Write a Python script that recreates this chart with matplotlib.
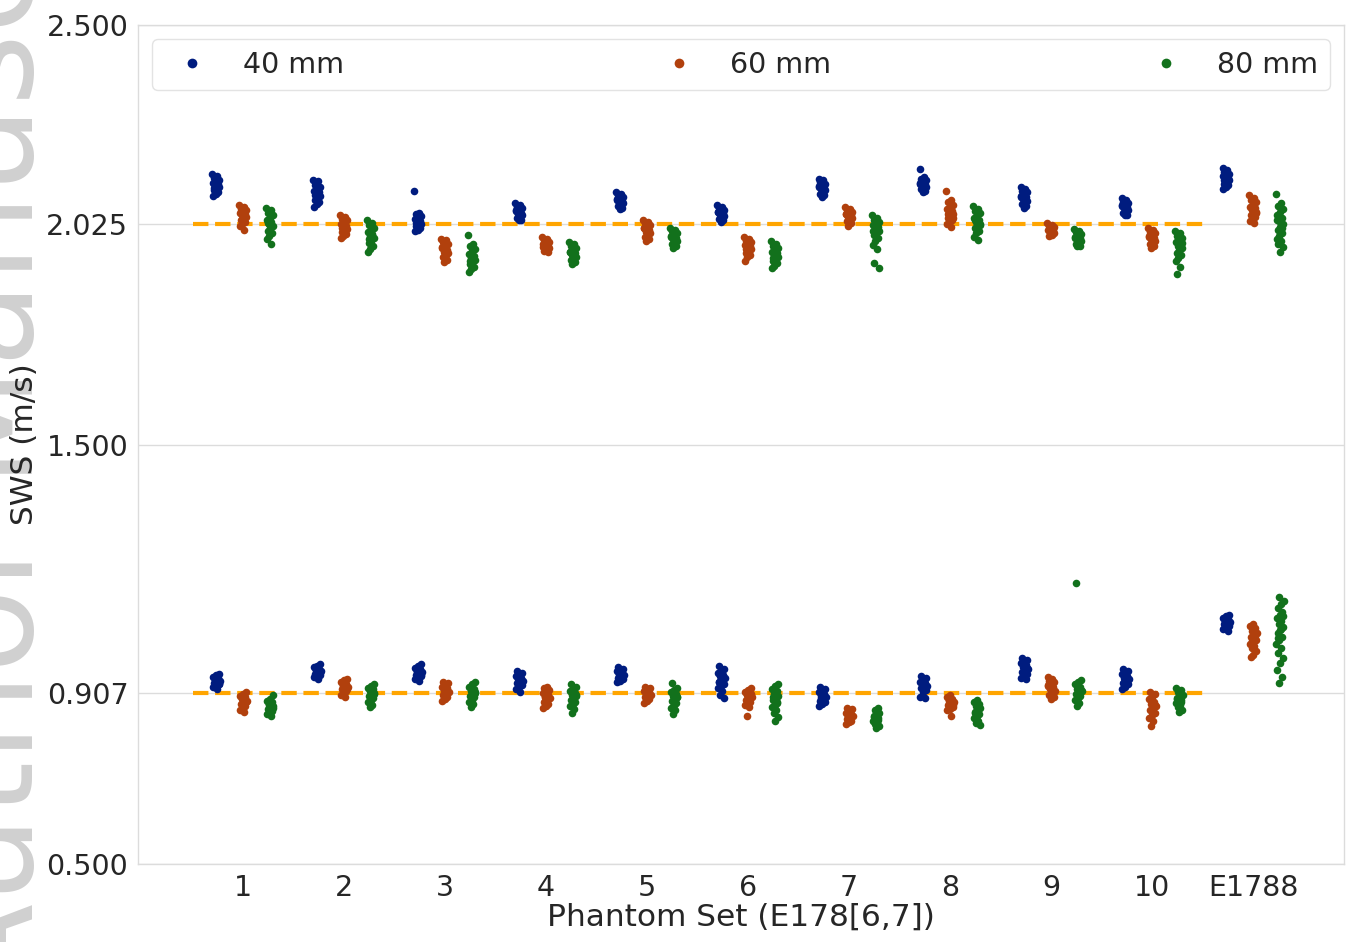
import matplotlib
matplotlib.use("Agg")
import matplotlib.pyplot as plt
from matplotlib.lines import Line2D
import numpy as np

phantom_sets = ["1", "2", "3", "4", "5", "6", "7", "8", "9", "10", "E1788"]
sizes = ["40 mm", "60 mm", "80 mm"]
nominal_sws = [0.907, 2.025]
yticks = [0.500, 0.907, 1.500, 2.025, 2.500]

# stiff inclusions (upper band), one list per phantom set
sws_40mm_hi = [
    [2.146, 2.140, 2.135, 2.131, 2.127, 2.123, 2.120, 2.117, 2.114, 2.110, 2.106, 2.102, 2.098, 2.093, 2.125, 2.112],
    [2.131, 2.127, 2.118, 2.114, 2.109, 2.105, 2.101, 2.097, 2.093, 2.089, 2.084, 2.079, 2.074, 2.067, 2.103, 2.095],
    [2.104, 2.053, 2.049, 2.045, 2.041, 2.037, 2.033, 2.029, 2.026, 2.023, 2.020, 2.016, 2.012, 2.009, 2.035, 2.027],
    [2.075, 2.071, 2.067, 2.063, 2.059, 2.056, 2.053, 2.050, 2.047, 2.044, 2.040, 2.036, 2.034, 2.058, 2.049],
    [2.101, 2.097, 2.094, 2.090, 2.087, 2.084, 2.081, 2.078, 2.075, 2.072, 2.068, 2.064, 2.062, 2.085, 2.079],
    [2.070, 2.067, 2.063, 2.060, 2.057, 2.054, 2.051, 2.048, 2.045, 2.042, 2.038, 2.034, 2.031, 2.055, 2.047],
    [2.134, 2.130, 2.126, 2.122, 2.118, 2.115, 2.112, 2.109, 2.106, 2.102, 2.098, 2.094, 2.089, 2.116, 2.104],
    [2.157, 2.137, 2.134, 2.130, 2.127, 2.124, 2.121, 2.118, 2.115, 2.112, 2.108, 2.104, 2.101, 2.122, 2.113],
    [2.113, 2.109, 2.105, 2.101, 2.097, 2.093, 2.089, 2.085, 2.081, 2.077, 2.073, 2.068, 2.063, 2.091, 2.083],
    [2.087, 2.083, 2.079, 2.075, 2.072, 2.069, 2.066, 2.063, 2.060, 2.056, 2.052, 2.048, 2.046, 2.070, 2.061],
    [2.158, 2.154, 2.150, 2.146, 2.142, 2.139, 2.136, 2.133, 2.130, 2.126, 2.122, 2.118, 2.113, 2.108, 2.140, 2.131],
]
sws_60mm_hi = [
    [2.070, 2.066, 2.062, 2.058, 2.055, 2.052, 2.049, 2.046, 2.043, 2.040, 2.036, 2.031, 2.026, 2.020, 2.011, 2.054],
    [2.046, 2.043, 2.038, 2.034, 2.030, 2.026, 2.022, 2.018, 2.014, 2.010, 2.006, 2.001, 1.996, 1.992, 2.024, 2.016],
    [1.991, 1.987, 1.982, 1.977, 1.972, 1.968, 1.964, 1.960, 1.956, 1.951, 1.946, 1.941, 1.936, 1.970, 1.958],
    [1.994, 1.991, 1.987, 1.983, 1.980, 1.977, 1.974, 1.971, 1.968, 1.965, 1.962, 1.958, 1.979, 1.970],
    [2.034, 2.031, 2.027, 2.023, 2.019, 2.015, 2.011, 2.007, 2.003, 1.999, 1.995, 1.990, 1.985, 2.017, 2.009],
    [1.994, 1.990, 1.986, 1.982, 1.978, 1.975, 1.972, 1.968, 1.965, 1.961, 1.957, 1.952, 1.947, 1.937, 1.976, 1.967],
    [2.065, 2.062, 2.058, 2.055, 2.052, 2.049, 2.046, 2.043, 2.040, 2.037, 2.033, 2.029, 2.021, 2.050, 2.044],
    [2.104, 2.082, 2.077, 2.072, 2.067, 2.062, 2.057, 2.053, 2.049, 2.045, 2.041, 2.036, 2.031, 2.025, 2.018, 2.050, 2.039],
    [2.027, 2.024, 2.021, 2.018, 2.015, 2.012, 2.009, 2.006, 2.003, 2.000, 1.997, 2.013, 2.007],
    [2.015, 2.011, 2.007, 2.003, 1.999, 1.996, 1.993, 1.990, 1.986, 1.982, 1.978, 1.973, 1.969, 1.995, 1.988],
    [2.094, 2.088, 2.082, 2.077, 2.072, 2.067, 2.063, 2.059, 2.055, 2.051, 2.047, 2.042, 2.037, 2.032, 2.028, 2.065, 2.053],
]
sws_80mm_hi = [
    [2.063, 2.058, 2.052, 2.046, 2.041, 2.036, 2.031, 2.026, 2.021, 2.016, 2.010, 2.004, 1.997, 1.989, 1.979, 2.028],
    [2.034, 2.029, 2.023, 2.017, 2.012, 2.007, 2.002, 1.997, 1.992, 1.986, 1.980, 1.974, 1.967, 1.960, 2.000, 1.990],
    [1.999, 1.979, 1.973, 1.967, 1.961, 1.955, 1.950, 1.945, 1.940, 1.935, 1.930, 1.924, 1.918, 1.912, 1.948, 1.938],
    [1.982, 1.977, 1.973, 1.968, 1.964, 1.960, 1.956, 1.952, 1.948, 1.944, 1.940, 1.935, 1.930, 1.958, 1.950],
    [2.015, 2.012, 2.008, 2.004, 2.000, 1.997, 1.993, 1.990, 1.986, 1.982, 1.978, 1.973, 1.969, 1.995, 1.988],
    [1.984, 1.979, 1.974, 1.969, 1.964, 1.960, 1.956, 1.951, 1.947, 1.942, 1.937, 1.932, 1.926, 1.921, 1.958, 1.945],
    [2.046, 2.041, 2.036, 2.031, 2.027, 2.023, 2.019, 2.015, 2.010, 2.005, 1.999, 1.992, 1.984, 1.975, 1.965, 1.933, 1.921, 2.017, 2.008],
    [2.068, 2.062, 2.057, 2.051, 2.046, 2.041, 2.036, 2.031, 2.026, 2.021, 2.016, 2.010, 2.003, 1.995, 1.988, 2.034, 2.024],
    [2.013, 2.010, 2.006, 2.002, 1.998, 1.995, 1.992, 1.989, 1.986, 1.982, 1.978, 1.974, 1.972, 1.993, 1.985],
    [2.008, 2.003, 1.998, 1.993, 1.988, 1.983, 1.978, 1.973, 1.968, 1.963, 1.957, 1.951, 1.945, 1.938, 1.923, 1.906, 1.980, 1.970],
    [2.097, 2.075, 2.068, 2.061, 2.054, 2.047, 2.040, 2.033, 2.026, 2.019, 2.012, 2.005, 1.998, 1.991, 1.984, 1.977, 1.971, 1.959, 2.036, 2.016],
]

# soft inclusions (lower band)
sws_40mm_lo = [
    [0.953, 0.950, 0.946, 0.943, 0.940, 0.937, 0.934, 0.931, 0.928, 0.925, 0.921, 0.917, 0.938, 0.930],
    [0.976, 0.973, 0.969, 0.966, 0.963, 0.960, 0.957, 0.954, 0.951, 0.948, 0.945, 0.942, 0.962, 0.955],
    [0.976, 0.972, 0.968, 0.964, 0.960, 0.957, 0.954, 0.951, 0.948, 0.944, 0.940, 0.936, 0.958, 0.950],
    [0.959, 0.955, 0.951, 0.947, 0.943, 0.940, 0.937, 0.934, 0.931, 0.927, 0.922, 0.916, 0.910, 0.945, 0.936],
    [0.969, 0.966, 0.962, 0.959, 0.956, 0.953, 0.950, 0.947, 0.944, 0.941, 0.937, 0.933, 0.955, 0.948],
    [0.971, 0.966, 0.961, 0.956, 0.951, 0.947, 0.943, 0.939, 0.935, 0.930, 0.925, 0.919, 0.912, 0.904, 0.896, 0.945, 0.933],
    [0.921, 0.917, 0.913, 0.909, 0.905, 0.901, 0.897, 0.893, 0.889, 0.885, 0.881, 0.877, 0.903, 0.895],
    [0.947, 0.943, 0.939, 0.935, 0.931, 0.928, 0.925, 0.922, 0.919, 0.915, 0.911, 0.898, 0.896, 0.933, 0.924],
    [0.990, 0.986, 0.982, 0.978, 0.974, 0.970, 0.966, 0.962, 0.958, 0.954, 0.950, 0.944, 0.940, 0.976, 0.967],
    [0.964, 0.960, 0.956, 0.952, 0.948, 0.944, 0.940, 0.936, 0.932, 0.928, 0.923, 0.918, 0.942, 0.934],
    [1.093, 1.090, 1.086, 1.083, 1.080, 1.077, 1.074, 1.071, 1.068, 1.064, 1.060, 1.055, 1.079, 1.072],
]
sws_60mm_lo = [
    [0.909, 0.905, 0.901, 0.897, 0.893, 0.889, 0.885, 0.881, 0.877, 0.873, 0.868, 0.862, 0.895, 0.886],
    [0.942, 0.938, 0.934, 0.930, 0.926, 0.923, 0.920, 0.916, 0.912, 0.908, 0.904, 0.899, 0.925, 0.917],
    [0.935, 0.931, 0.927, 0.923, 0.919, 0.915, 0.911, 0.907, 0.903, 0.899, 0.894, 0.888, 0.917, 0.909],
    [0.923, 0.919, 0.915, 0.911, 0.907, 0.903, 0.899, 0.895, 0.891, 0.887, 0.882, 0.877, 0.873, 0.905, 0.897],
    [0.923, 0.920, 0.916, 0.912, 0.909, 0.906, 0.903, 0.900, 0.897, 0.893, 0.889, 0.884, 0.908, 0.901],
    [0.919, 0.915, 0.911, 0.907, 0.903, 0.899, 0.895, 0.891, 0.887, 0.883, 0.878, 0.874, 0.853, 0.905, 0.893],
    [0.873, 0.869, 0.865, 0.861, 0.858, 0.855, 0.852, 0.849, 0.846, 0.842, 0.838, 0.834, 0.856, 0.850],
    [0.902, 0.898, 0.894, 0.890, 0.886, 0.882, 0.878, 0.874, 0.870, 0.866, 0.852, 0.888, 0.880],
    [0.945, 0.941, 0.937, 0.933, 0.929, 0.925, 0.921, 0.917, 0.913, 0.909, 0.904, 0.899, 0.894, 0.927, 0.918],
    [0.911, 0.905, 0.899, 0.893, 0.887, 0.882, 0.877, 0.872, 0.867, 0.861, 0.855, 0.848, 0.840, 0.829, 0.880, 0.869],
    [1.073, 1.068, 1.062, 1.056, 1.050, 1.045, 1.040, 1.035, 1.030, 1.025, 1.020, 1.014, 1.007, 0.999, 0.994, 1.043, 1.032],
]
sws_80mm_lo = [
    [0.902, 0.893, 0.889, 0.885, 0.881, 0.877, 0.873, 0.869, 0.865, 0.861, 0.857, 0.852, 0.880, 0.872],
    [0.930, 0.925, 0.920, 0.916, 0.912, 0.908, 0.904, 0.900, 0.896, 0.891, 0.886, 0.880, 0.874, 0.906, 0.897],
    [0.933, 0.928, 0.923, 0.918, 0.913, 0.909, 0.905, 0.901, 0.897, 0.892, 0.887, 0.881, 0.874, 0.907, 0.899],
    [0.928, 0.923, 0.918, 0.913, 0.908, 0.904, 0.900, 0.896, 0.892, 0.887, 0.882, 0.876, 0.869, 0.861, 0.902, 0.894],
    [0.931, 0.919, 0.914, 0.909, 0.905, 0.901, 0.897, 0.893, 0.889, 0.884, 0.879, 0.873, 0.866, 0.858, 0.899, 0.891],
    [0.930, 0.924, 0.918, 0.912, 0.906, 0.901, 0.896, 0.891, 0.886, 0.880, 0.874, 0.867, 0.859, 0.850, 0.841, 0.898, 0.884],
    [0.873, 0.866, 0.861, 0.857, 0.853, 0.849, 0.845, 0.841, 0.837, 0.833, 0.829, 0.825, 0.851, 0.843],
    [0.892, 0.887, 0.882, 0.877, 0.872, 0.867, 0.862, 0.857, 0.852, 0.847, 0.842, 0.836, 0.832, 0.870, 0.860],
    [1.170, 0.938, 0.933, 0.928, 0.923, 0.918, 0.913, 0.909, 0.905, 0.900, 0.895, 0.890, 0.884, 0.877, 0.915, 0.903],
    [0.919, 0.914, 0.909, 0.904, 0.900, 0.896, 0.892, 0.888, 0.884, 0.879, 0.874, 0.868, 0.862, 0.894, 0.886],
    [1.136, 1.127, 1.119, 1.110, 1.101, 1.094, 1.087, 1.079, 1.072, 1.065, 1.058, 1.050, 1.042, 1.034, 1.025,
     1.015, 1.004, 0.992, 0.980, 0.963, 0.945, 0.932, 1.091, 1.061, 1.038],
]

colors = ["#001c7f", "#b1400d", "#12711c"]
text_color = "#262626"
grid_color = "#dcdcdc"

plt.rcParams["font.family"] = "DejaVu Sans"

fig = plt.figure(figsize=(13.49, 9.42), dpi=100)
ax = fig.add_axes([138 / 1349, 1 - 864 / 942, 1206 / 1349, 839 / 942])

# faint "Author Manuscript" watermark on the left page margin, mostly cut off
fig.text(33 / 1349, 0.62, "Author Manuscript", rotation=90, rotation_mode="anchor",
         ha="center", va="baseline", fontsize=100, color="#d0d0d0", zorder=-1)

# dodge offsets like a seaborn stripplot with 3 hue levels
dodge = [-0.8 / 3, 0.0, 0.8 / 3]
jitter = 0.036

series = [(sws_40mm_hi, sws_40mm_lo), (sws_60mm_hi, sws_60mm_lo), (sws_80mm_hi, sws_80mm_lo)]
for k, (hi, lo) in enumerate(series):
    for i in range(len(phantom_sets)):
        vals = np.array(hi[i] + lo[i])
        n = len(vals)
        frac = (np.arange(n) * 0.6180339887) % 1.0
        xs = i + dodge[k] + (frac * 2 - 1) * jitter
        ax.scatter(xs, vals, s=30, color=colors[k], linewidths=0, zorder=3)

for v in nominal_sws:
    ax.hlines(v, -0.5, 9.5, colors="orange", linestyles="--", linewidth=3, zorder=2)

ax.set_xlim(-1.04, 10.9)
ax.set_ylim(0.5, 2.5)
ax.set_yticks(yticks)
ax.set_yticklabels([f"{t:.3f}" for t in yticks])
ax.set_xticks(range(len(phantom_sets)))
ax.set_xticklabels(phantom_sets)
ax.tick_params(axis="both", length=0, pad=7, labelsize=20.5, labelcolor=text_color)
ax.yaxis.grid(True, color=grid_color, linewidth=1)
ax.xaxis.grid(False)
ax.set_axisbelow(True)
for sp in ax.spines.values():
    sp.set_color(grid_color)
    sp.set_linewidth(1)

ax.set_ylabel("SWS (m/s)", fontsize=22.5, color=text_color, labelpad=5)
ax.set_xlabel("Phantom Set (E178[6,7])", fontsize=22.5, color=text_color, labelpad=1)

handles = [Line2D([], [], marker="o", linestyle="", markersize=7, markeredgewidth=0,
                  color=c) for c in colors]
leg = ax.legend(handles, sizes, loc="upper left", bbox_to_anchor=(0, 0, 1, 1),
                mode="expand", ncol=3, fontsize=20.5, frameon=True, borderaxespad=0.5)
leg.get_frame().set_edgecolor(grid_color)
for t in leg.get_texts():
    t.set_color(text_color)

fig.savefig("out.png", dpi=100)
